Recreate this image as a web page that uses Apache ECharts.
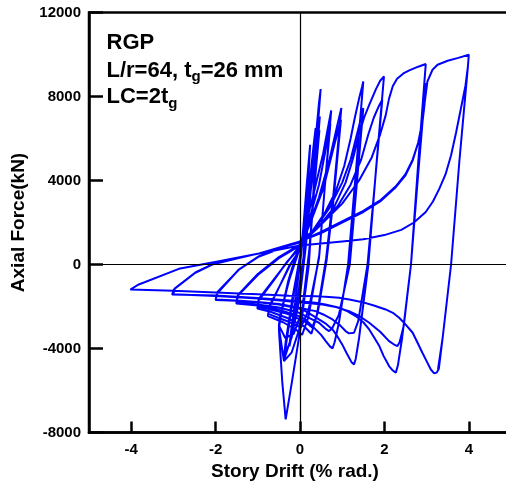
<!DOCTYPE html>
<html>
<head>
<meta charset="utf-8">
<script src="https://cdn.jsdelivr.net/npm/echarts@6/dist/echarts.min.js"></script>
<style>
html,body{margin:0;padding:0;background:#fff;}
#chart{width:506px;height:483px;}
</style>
</head>
<body>
<div id="chart"></div>
<script>
// Tick values
const xTicks = [-4, -2, 0, 2, 4];
const yTicks = [-8000, -4000, 0, 4000, 8000, 12000];

// Hysteresis cycles [drift %, axial force kN], in loading order
const cyc025 = [[0,0],[0.08,1800],[0.16,3800],[0.24,5700],[0.17,3000],[0.08,300],[-0.05,-1500],[-0.15,-2900],[-0.25,-3900],[-0.22,-3300],[-0.1,-1500],[0,0]];
const cyc0375a = [[0,0],[0.12,2200],[0.25,4300],[0.33,5800],[0.37,6500],[0.28,4300],[0.14,1000],[0.0,-1400],[-0.18,-3300],[-0.37,-4500],[-0.33,-3800],[-0.18,-1800],[0,300]];
const cyc0375b = [[0,300],[0.14,2500],[0.26,4300],[0.36,6000],[0.27,3900],[0.14,900],[0.0,-1500],[-0.2,-3500],[-0.38,-4400],[-0.34,-3700],[-0.18,-1600],[0,400]];
const cyc050a = [[0,400],[0.12,1900],[0.26,4000],[0.38,6200],[0.45,7700],[0.49,8356],[0.38,5500],[0.21,0],[0.02,-2934],[-0.2,-5700],[-0.34,-7372],[-0.42,-5600],[-0.46,-4360],[-0.5,-3100],[-0.47,-2600],[-0.3,-1000],[-0.12,300],[0,700]];
const cyc050b = [[0,700],[0.15,2200],[0.3,4300],[0.42,6300],[0.47,7050],[0.36,4200],[0.22,500],[0.1,-1500],[-0.02,-3100],[-0.2,-4200],[-0.38,-4600],[-0.5,-3000],[-0.47,-2500],[-0.28,-800],[-0.1,400],[0,800]];
const cyc050c = [[0,800],[0.16,2300],[0.32,4400],[0.46,6400],[0.35,3900],[0.22,700],[0.05,-2200],[-0.15,-3300],[-0.35,-3500],[-0.5,-2900],[-0.47,-2400],[-0.25,-700],[0,800]];
const cyc075a = [[0,800],[0.15,2000],[0.35,3600],[0.55,5300],[0.68,6700],[0.74,7339],[0.6,4000],[0.46,500],[0.2,-2500],[0.05,-3350],[-0.1,-3100],[-0.4,-2750],[-0.76,-2457],[-0.74,-2100],[-0.5,-1100],[-0.25,-50],[0,700]];
const cyc075b = [[0,700],[0.2,2000],[0.45,3800],[0.62,5600],[0.72,6700],[0.58,3500],[0.45,300],[0.2,-2200],[0.02,-3000],[-0.3,-2700],[-0.75,-2350],[-0.73,-2000],[-0.45,-900],[-0.2,100],[0,700]];
const cyc100a = [[0,700],[0.2,1800],[0.45,3200],[0.7,5000],[0.88,6600],[0.98,7451],[0.8,3500],[0.62,300],[0.4,-2400],[0.27,-3300],[0.1,-2950],[-0.3,-2550],[-0.7,-2250],[-1.01,-2093],[-0.99,-1750],[-0.6,-700],[-0.3,150],[0,800]];
const cyc100b = [[0,800],[0.25,2000],[0.55,3600],[0.8,5600],[0.97,6900],[0.8,3200],[0.63,200],[0.42,-2300],[0.29,-3000],[0.1,-2700],[-0.3,-2350],[-0.7,-2150],[-1.0,-2000],[-0.98,-1650],[-0.5,-400],[0,900]];
const cyc150a = [[0,900],[0.3,1600],[0.6,2500],[0.85,3500],[1.05,4700],[1.2,6000],[1.3,7000],[1.4,7900],[1.47,8450],[1.5,8718],[1.32,4300],[1.14,0],[0.92,-2800],[0.82,-3700],[0.77,-3995],[0.71,-3900],[0.61,-3646],[0.5,-3350],[0.37,-3091],[0.13,-2616],[-0.02,-2457],[-0.5,-2150],[-1.0,-1950],[-1.51,-1855],[-1.48,-1500],[-1.0,-500],[-0.5,300],[0,900]];
const cyc150b = [[0,900],[0.35,1700],[0.7,2700],[1.0,3900],[1.2,5000],[1.35,6200],[1.45,7000],[1.5,7450],[1.34,3700],[1.18,0],[0.92,-2400],[0.76,-3050],[0.69,-3170],[0.6,-3050],[0.45,-2774],[0.13,-2457],[-0.02,-2300],[-0.5,-2050],[-1.0,-1900],[-1.5,-1800],[-1.47,-1450],[-1.0,-450],[-0.5,350],[0,950]];
const cyc200a = [[0,950],[0.4,1700],[0.8,2700],[1.08,3900],[1.25,5000],[1.4,6200],[1.52,7000],[1.64,7600],[1.8,8350],[1.9,8750],[1.99,8956],[1.8,4500],[1.62,0],[1.4,-3500],[1.32,-4500],[1.28,-4756],[1.22,-4650],[1.1,-4200],[1.0,-3805],[0.88,-3400],[0.77,-3091],[0.6,-2800],[0.45,-2616],[0.13,-2220],[-0.02,-2100],[-0.5,-1900],[-1.0,-1800],[-1.5,-1730],[-2.0,-1690],[-1.97,-1400],[-1.45,-238],[-0.97,396],[-0.34,872],[0,1050]];
const cyc200b = [[0,1050],[0.45,1800],[0.9,2800],[1.2,3800],[1.45,5000],[1.62,6200],[1.75,7000],[1.87,7550],[1.95,7847],[1.78,4000],[1.6,0],[1.38,-2700],[1.28,-3250],[1.24,-3329],[1.16,-3280],[1.08,-3170],[0.95,-2900],[0.77,-2616],[0.55,-2380],[0.37,-2220],[-0.02,-2061],[-0.5,-1880],[-1.0,-1780],[-1.5,-1720],[-2.0,-1665],[-1.95,-1300],[-1.45,-250],[-0.97,380],[-0.34,860],[0,1100]];
const cyc300a = [[0,1100],[0.5,1900],[1.0,2900],[1.4,4000],[1.7,5100],[1.9,6200],[2.03,7100],[2.11,7900],[2.2,8500],[2.3,8850],[2.45,9100],[2.59,9243],[2.8,9420],[2.98,9545],[2.8,4800],[2.63,0],[2.42,-3500],[2.32,-4800],[2.27,-5151],[2.2,-5050],[2.11,-4836],[1.98,-4350],[1.88,-3884],[1.75,-3450],[1.64,-3091],[1.5,-2750],[1.32,-2457],[1.1,-2200],[0.93,-2061],[0.6,-1900],[0.37,-1823],[-0.02,-1745],[-1.0,-1600],[-2.0,-1480],[-3.03,-1427],[-2.99,-1189],[-2.48,-396],[-2.08,0],[-1.5,280],[-0.97,530],[0,1100]];
const cyc300b = [[0,1100],[0.5,1550],[1.08,2140],[1.5,2550],[1.9,3050],[2.27,3725],[2.5,4300],[2.67,4994],[2.8,5800],[2.9,6740],[2.95,7600],[2.98,8640],[2.8,4300],[2.63,0],[2.46,-2900],[2.36,-3700],[2.31,-3884],[2.22,-3800],[2.11,-3646],[1.9,-3200],[1.64,-2774],[1.4,-2450],[1.16,-2220],[0.85,-2030],[0.53,-1902],[-0.02,-1800],[-1.0,-1620],[-2.0,-1500],[-3.0,-1420],[-2.97,-1150],[-2.48,-380],[-1.92,158],[-0.97,523],[0,1100]];
const cyc400a = [[0,1100],[0.5,1500],[1.08,2080],[1.5,2500],[1.9,3000],[2.27,3680],[2.5,4250],[2.67,4950],[2.8,5800],[2.9,6800],[2.96,7800],[3.02,8718],[3.14,9274],[3.26,9512],[3.5,9702],[3.75,9840],[4.0,9988],[3.98,9464],[3.78,5000],[3.58,0],[3.38,-3500],[3.29,-4962],[3.24,-5150],[3.18,-5184],[3.1,-5000],[3.0,-4600],[2.9,-4200],[2.78,-3700],[2.67,-3250],[2.5,-2850],[2.35,-2537],[2.2,-2300],[2.03,-2140],[1.75,-1950],[1.48,-1793],[1.2,-1680],[0.93,-1585],[0.6,-1530],[0.37,-1506],[-0.26,-1490],[-1.0,-1420],[-2.0,-1330],[-3.0,-1250],[-4.02,-1190],[-3.82,-951],[-2.87,-206],[-1.92,158],[-0.97,523],[0,900]];
const cyc400b = [[0,900],[0.5,1000],[1.0,1100],[1.5,1200],[2.0,1400],[2.4,1650],[2.7,2000],[2.98,2500],[3.15,3000],[3.3,3600],[3.45,4300],[3.58,5200],[3.7,6300],[3.82,7500],[3.92,8500],[3.98,9450],[3.78,5000],[3.58,0],[3.38,-3500],[3.27,-5000]];

const cycles = [cyc025, cyc0375a, cyc0375b, cyc050a, cyc050b, cyc050c, cyc075a, cyc075b,
  cyc100a, cyc100b, cyc150a, cyc150b, cyc200a, cyc200b, cyc300a, cyc300b, cyc400a, cyc400b];
const loopData = [];
cycles.forEach(c => c.forEach(p => loopData.push(p)));

const FONT = '"Liberation Sans", Arial, Helvetica, sans-serif';
const chart = echarts.init(document.getElementById('chart'), null, {renderer: 'canvas'});
const option = {
  animation: false,
  backgroundColor: '#ffffff',
  grid: {
    left: 89, top: 12.5, width: 422, height: 420, containLabel: false, outerBoundsMode: 'none',
    show: true, borderColor: '#000', borderWidth: 2.5, backgroundColor: 'transparent'
  },
  xAxis: {
    type: 'value', min: -5, max: 5,
    axisLine: {show: true, onZero: false, lineStyle: {color: '#000', width: 2.5}},
    axisTick: {show: true, inside: true, length: 11, customValues: xTicks, lineStyle: {color: '#000', width: 2.5}},
    axisLabel: {show: true, customValues: xTicks, margin: 10, fontSize: 15, fontWeight: 'bold', color: '#000', fontFamily: FONT,
      formatter: v => String(v)},
    splitLine: {show: false},
    name: 'Story Drift (% rad.)', nameLocation: 'middle', nameGap: 25,
    nameTextStyle: {fontSize: 19, fontWeight: 'bold', color: '#000', fontFamily: FONT, padding: [0, 10, 0, 0]}
  },
  yAxis: {
    type: 'value', min: -8000, max: 12000, interval: 4000,
    axisLine: {show: true, onZero: false, lineStyle: {color: '#000', width: 2.5}},
    axisTick: {show: true, inside: true, length: 14, customValues: yTicks, lineStyle: {color: '#000', width: 2.5}},
    axisLabel: {show: true, margin: 8, fontSize: 15, fontWeight: 'bold', color: '#000', fontFamily: FONT,
      customValues: yTicks, formatter: v => String(v)},
    splitLine: {show: false},
    name: 'Axial Force(kN)', nameLocation: 'middle', nameGap: 58, nameRotate: 90,
    nameTextStyle: {fontSize: 19, fontWeight: 'bold', color: '#000', fontFamily: FONT}
  },
  graphic: [
    {type: 'text', x: 106.5, y: 43, z: 10,
      style: {text: 'RGP', fontSize: 22, fontWeight: 'bold', fontFamily: FONT, fill: '#000', align: 'left', verticalAlign: 'middle'}},
    {type: 'text', x: 106.5, y: 70.6, z: 10,
      style: {text: '{a|L/r=64, t}{s|g}{a|=26 mm}', align: 'left', verticalAlign: 'middle', fill: '#000',
        rich: {a: {fontSize: 22, fontWeight: 'bold', fontFamily: FONT, fill: '#000'},
               s: {fontSize: 15, fontWeight: 'bold', fontFamily: FONT, fill: '#000', padding: [13, 0, 0, 0]}}}},
    {type: 'text', x: 106.5, y: 97.3, z: 10,
      style: {text: '{a|LC=2t}{s|g}', align: 'left', verticalAlign: 'middle', fill: '#000',
        rich: {a: {fontSize: 22, fontWeight: 'bold', fontFamily: FONT, fill: '#000'},
               s: {fontSize: 15, fontWeight: 'bold', fontFamily: FONT, fill: '#000', padding: [13, 0, 0, 0]}}}}
  ],
  series: [
    {
      type: 'line', data: [[0, 0]], symbol: 'none', lineStyle: {opacity: 0}, z: 1, silent: true,
      markLine: {silent: true, symbol: 'none', label: {show: false}, animation: false,
        lineStyle: {color: '#000', width: 1.2, type: 'solid'},
        data: [{xAxis: 0}, {yAxis: 0}]}
    },
    {
      type: 'line', data: loopData, symbol: 'none', showSymbol: false, smooth: false, z: 3,
      lineStyle: {color: '#0000ff', width: 2}, silent: true
    }
  ]
};
chart.setOption(option);
</script>
</body>
</html>
